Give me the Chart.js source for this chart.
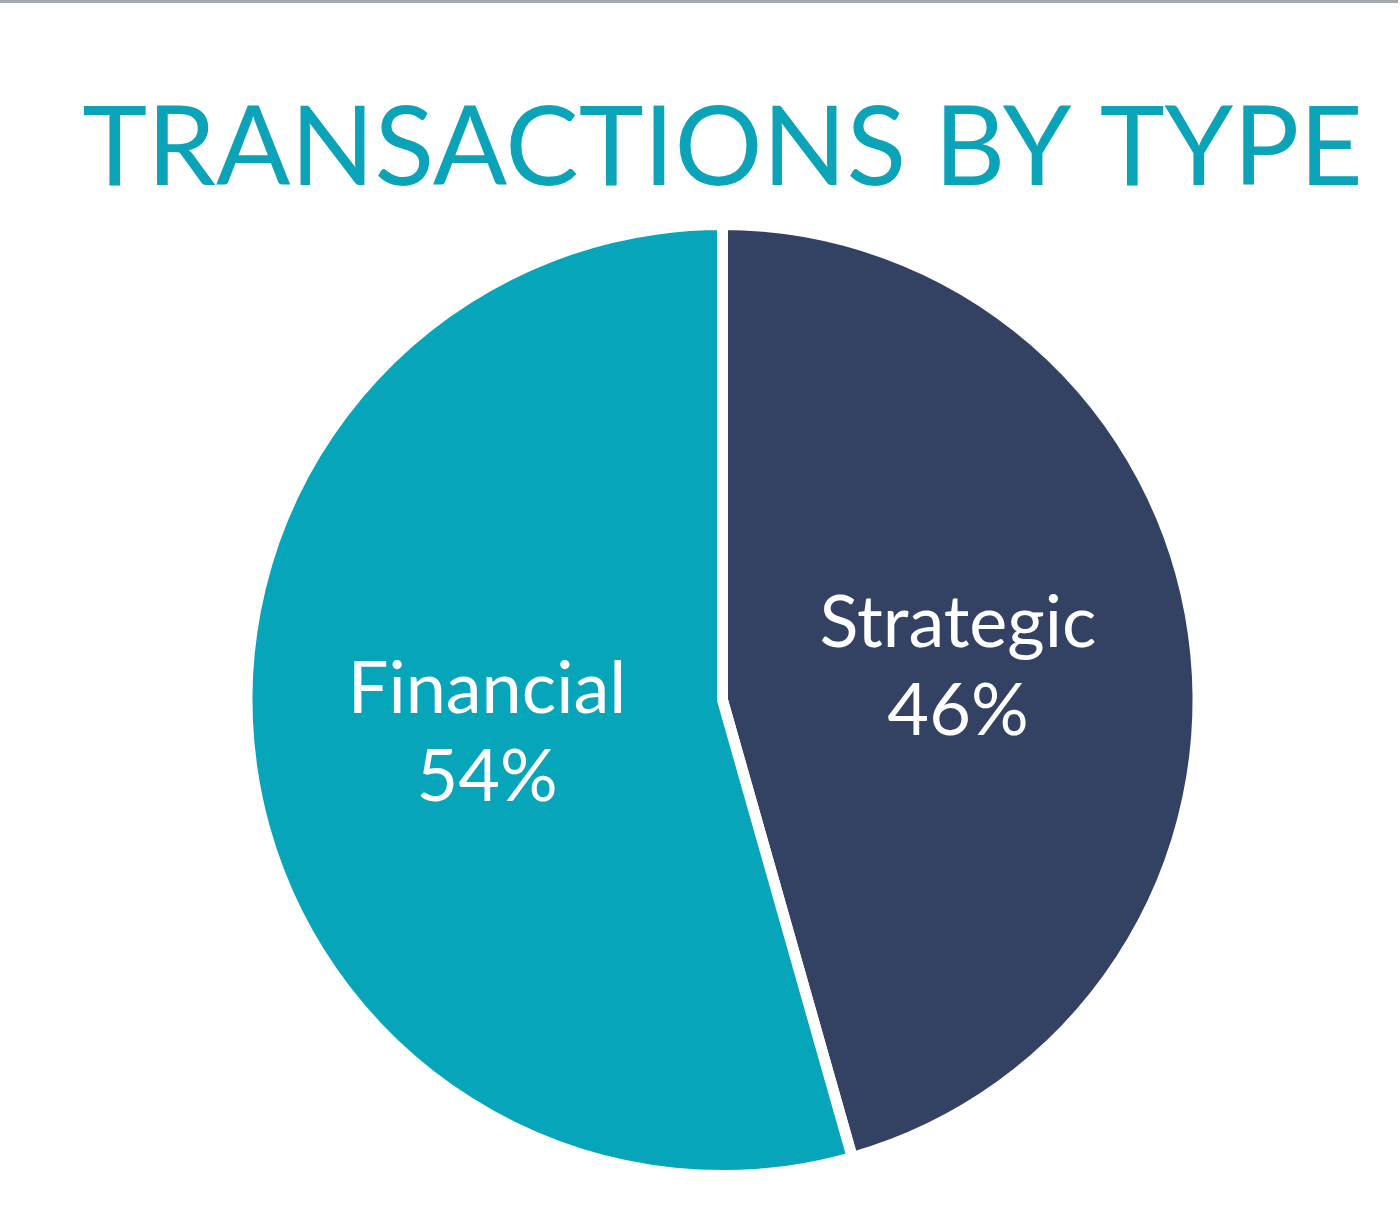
<!DOCTYPE html>
<html>
<head>
<meta charset="utf-8">
<script src="https://cdn.jsdelivr.net/npm/chart.js@4.4.1/dist/chart.umd.min.js"></script>
<style>
  html, body { margin: 0; padding: 0; background: #ffffff; }
  #wrap { width: 1400px; height: 1209px; position: relative; }
</style>
</head>
<body>
<div id="wrap"><canvas id="c"></canvas></div>
<script>
// ---- data ----
const titleText = 'TRANSACTIONS BY TYPE';
const categories = ['Strategic', 'Financial'];
const shareValues = [45.6, 54.4];
const sliceColors = ['#334263', '#07a5b9'];

const topRule = {
  id: 'topRule',
  beforeDraw(chart) {
    const ctx = chart.ctx;
    ctx.save();
    ctx.fillStyle = '#a2a9ac';
    ctx.fillRect(0, 0, 1398, 3);
    ctx.restore();
  }
};

const sliceLabels = {
  id: 'sliceLabels',
  afterDatasetsDraw(chart) {
    const ctx = chart.ctx;
    const meta = chart.getDatasetMeta(0);
    ctx.save();
    ctx.fillStyle = '#ffffff';
    ctx.font = '400 72px Lato, "Open Sans", sans-serif';
    ctx.textAlign = 'center';
    ctx.textBaseline = 'middle';
    meta.data.forEach((arc, i) => {
      const p = arc.tooltipPosition();
      const val = chart.data.datasets[0].data[i];
      ctx.fillText(chart.data.labels[i], p.x, p.y - 43);
      ctx.fillText(Math.round(val) + '%', p.x, p.y + 45);
    });
    ctx.restore();
  }
};

new Chart(document.getElementById('c'), {
  type: 'pie',
  data: {
    labels: categories,
    datasets: [{
      data: shareValues,
      backgroundColor: sliceColors,
      borderColor: '#ffffff',
      borderWidth: 11,
      hoverOffset: 0
    }]
  },
  options: {
    responsive: true,
    maintainAspectRatio: false,
    animation: false,
    layout: { padding: { left: 45, right: 0, top: 0, bottom: 28 } },
    plugins: {
      legend: { display: false },
      tooltip: { enabled: false },
      title: {
        display: true,
        text: titleText,
        color: '#0aa3b8',
        font: { family: 'Lato, "Open Sans", sans-serif', size: 110, weight: '400', lineHeight: 1 },
        padding: { top: 95, bottom: 14 }
      }
    }
  },
  plugins: [topRule, sliceLabels]
});
</script>
</body>
</html>
